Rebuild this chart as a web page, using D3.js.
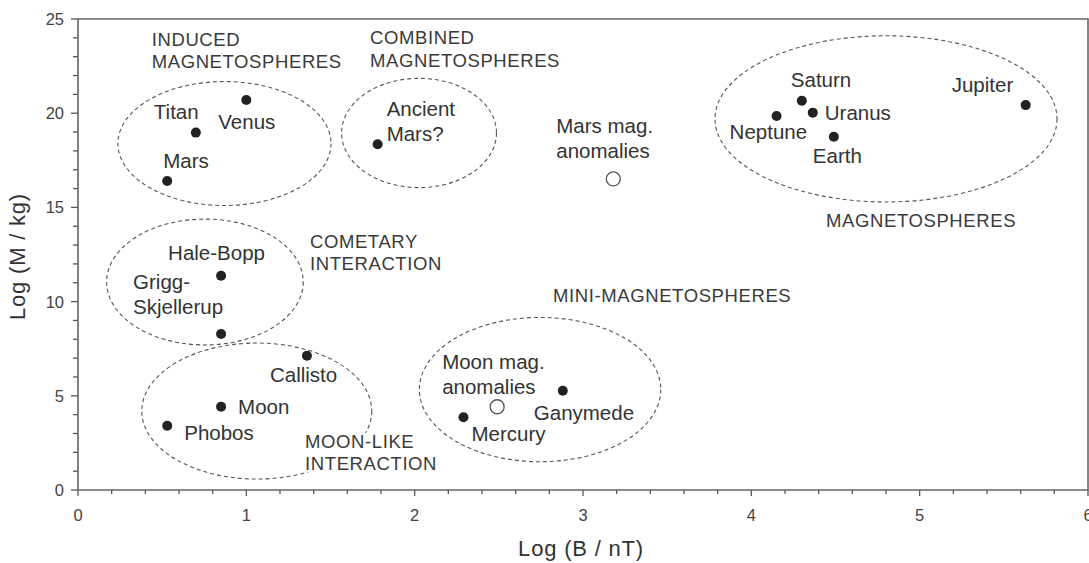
<!DOCTYPE html>
<html>
<head>
<meta charset="utf-8">
<script src="https://cdn.jsdelivr.net/npm/d3@7"></script>
<style>
	body { margin: 0; background: #fff; }
	#chart { width: 1089px; height: 563px; }
	text { font-family: "Liberation Sans", Arial, Helvetica, sans-serif; fill: #333; }
	.tickLabel { font-size: 16.5px; fill: #444; }
	.axisLabel { font-size: 22px; letter-spacing: 0.8px; fill: #333; }
	.bodyLabel { font-size: 20.5px; }
	.regionLabel { font-size: 18.5px; letter-spacing: 0.6px; fill: #3a3a3a; }
	.axisLine { stroke: #666; stroke-width: 1.6; fill: none; }
	.tickLine { stroke: #555; stroke-width: 1.3; }
	.region { fill: none; stroke: #555; stroke-width: 1.1; stroke-dasharray: 4,3; }
	.dot { fill: #222; }
	.openDot { fill: #fff; stroke: #555; stroke-width: 1.3; }
</style>
</head>
<body>
<div id="chart"></div>
<script>
"use strict"

// solar system bodies (filled dots)
const bodyNames = ["Venus", "Titan", "Mars", "Hale-Bopp", "Grigg-\nSkjellerup", "Callisto",
	"Moon", "Phobos", "Mercury", "Ganymede", "Ancient\nMars?",
	"Saturn", "Uranus", "Neptune", "Earth", "Jupiter"];
const bodyLogB = [1.00, 0.70, 0.53, 0.85, 0.85, 1.36, 0.85, 0.53, 2.29, 2.88, 1.78, 4.30, 4.365, 4.15, 4.49, 5.63];
const bodyLogM = [20.70, 18.97, 16.40, 11.37, 8.28, 7.13, 4.42, 3.41, 3.86, 5.27, 18.35, 20.66, 20.03, 19.85, 18.75, 20.43];

// crustal magnetic anomalies (open circles)
const anomalyNames = ["Mars mag.\nanomalies", "Moon mag.\nanomalies"];
const anomalyLogB = [3.18, 2.49];
const anomalyLogM = [16.51, 4.42];

// interaction regions (dashed ellipses), centre and half-axes in Log units
const regionNames = ["INDUCED\nMAGNETOSPHERES", "COMBINED\nMAGNETOSPHERES", "MAGNETOSPHERES",
	"COMETARY\nINTERACTION", "MOON-LIKE\nINTERACTION", "MINI-MAGNETOSPHERES"];
const regionCx = [0.870, 2.026, 4.800, 0.754, 1.062, 2.745];
const regionCy = [18.39, 18.95, 19.70, 11.04, 4.19, 5.33];
const regionRx = [0.633, 0.460, 1.016, 0.584, 0.683, 0.717];
const regionRy = [3.29, 2.90, 4.41, 3.34, 3.61, 3.83];

const xTicks = [0, 1, 2, 3, 4, 5, 6];
const yTicks = [0, 5, 10, 15, 20, 25];
const xLabel = "Log (B / nT)";
const yLabel = "Log (M / kg)";

// label placement (layout, pixels from the point / data position of region titles)
const labelOffset = {
	"Venus": [-28, 29], "Titan": [-42, -14], "Mars": [-4, -13], "Hale-Bopp": [-53, -16],
	"Grigg-\nSkjellerup": [-88, -45], "Callisto": [-37, 26], "Moon": [17, 7], "Phobos": [17, 14],
	"Mercury": [8, 24], "Ganymede": [-29, 29], "Ancient\nMars?": [9, -28],
	"Saturn": [-11, -14], "Uranus": [12, 7], "Neptune": [-47, 23], "Earth": [-21, 26], "Jupiter": [-74, -13],
	"Mars mag.\nanomalies": [-57, -46], "Moon mag.\nanomalies": [-55, -38]
};
const regionLabelX = [0.438, 1.735, 4.444, 1.378, 1.349, 2.822];
const regionLabelY = [23.58, 23.66, 13.98, 12.86, 2.245, 9.96];

let ChartView = function(targetID) {
	let self = {
		target: null,
		svg: null,
		margin: {left: 78, right: 1, top: 19, bottom: 73},
		totalWidth: 1089,
		totalHeight: 563,
		xScale: d3.scaleLinear(),
		yScale: d3.scaleLinear(),
	};

	function initTarget() {
		self.target = d3.select(targetID);
		self.svg = self.target.append("svg")
			.attr("width", self.totalWidth)
			.attr("height", self.totalHeight);

		self.xScale.domain([0, 6]).range([self.margin.left, self.totalWidth - self.margin.right]);
		self.yScale.domain([0, 25]).range([self.totalHeight - self.margin.bottom, self.margin.top]);
	}

	function multiLine(sel, lines, x, y, step) {
		lines.forEach((l, i) => {
			sel.append("tspan").attr("x", x).attr("y", y + i * step).text(l);
		});
	}

	function drawAxes() {
		let x = self.xScale, y = self.yScale;
		let g = self.svg.append("g").attr("class", "axes");

		// minor + major ticks
		let xMinor = d3.range(0, 6.001, 0.2);
		g.selectAll(".xtick").data(xMinor).enter().append("line")
			.attr("class", "tickLine")
			.attr("x1", d => x(d)).attr("x2", d => x(d))
			.attr("y1", y(0)).attr("y2", (d, i) => y(0) + (i % 5 == 0 ? 6 : 4));
		let yMinor = d3.range(0, 25.001, 1);
		g.selectAll(".ytick").data(yMinor).enter().append("line")
			.attr("class", "tickLine")
			.attr("y1", d => y(d)).attr("y2", d => y(d))
			.attr("x1", x(0)).attr("x2", (d, i) => x(0) - (i % 5 == 0 ? 7 : 5));

		// frame
		g.append("path").attr("class", "axisLine")
			.attr("d", `M${x(0)},${y(25)}H${x(6)}V${y(0)}H${x(0)}Z`);

		g.selectAll(".xTickLabel").data(xTicks).enter().append("text")
			.attr("class", "tickLabel")
			.attr("x", d => x(d)).attr("y", y(0) + 31)
			.attr("text-anchor", "middle")
			.text(d => d);
		g.selectAll(".yTickLabel").data(yTicks).enter().append("text")
			.attr("class", "tickLabel")
			.attr("x", x(0) - 14).attr("y", d => y(d) + 6)
			.attr("text-anchor", "end")
			.text(d => d);

		g.append("text").attr("class", "axisLabel")
			.attr("x", 581).attr("y", 556)
			.attr("text-anchor", "middle")
			.text(xLabel);
		g.append("text").attr("class", "axisLabel")
			.attr("transform", `translate(25,${(y(0) + y(25)) / 2 + 2})rotate(-90)`)
			.attr("text-anchor", "middle")
			.text(yLabel);
	}

	function drawRegions() {
		let x = self.xScale, y = self.yScale;
		let g = self.svg.append("g").attr("class", "regions");
		let regions = regionNames.map((n, i) => ({name: n, cx: regionCx[i], cy: regionCy[i], rx: regionRx[i], ry: regionRy[i],
			lx: regionLabelX[i], ly: regionLabelY[i]}));

		g.selectAll("ellipse").data(regions).enter().append("ellipse")
			.attr("class", "region")
			.attr("cx", d => x(d.cx)).attr("cy", d => y(d.cy))
			.attr("rx", d => x(d.rx) - x(0)).attr("ry", d => y(0) - y(d.ry));

		regions.forEach(d => {
			let lg = g.append("g");
			let t = lg.append("text").attr("class", "regionLabel");
			multiLine(t, d.name.split("\n"), x(d.lx), y(d.ly), 22.5);
			let bb = t.node().getBBox();
			lg.insert("rect", "text")
				.attr("x", bb.x - 2).attr("y", bb.y + 2)
				.attr("width", bb.width + 4).attr("height", bb.height - 4)
				.attr("fill", "#fff");
		});
	}

	function drawPoints() {
		let x = self.xScale, y = self.yScale;
		let bodies = bodyNames.map((n, i) => ({name: n, b: bodyLogB[i], m: bodyLogM[i]}));
		let anomalies = anomalyNames.map((n, i) => ({name: n, b: anomalyLogB[i], m: anomalyLogM[i]}));

		let g = self.svg.append("g").attr("class", "points");
		g.selectAll(".dot").data(bodies).enter().append("circle")
			.attr("class", "dot")
			.attr("cx", d => x(d.b)).attr("cy", d => y(d.m)).attr("r", 5);
		g.selectAll(".openDot").data(anomalies).enter().append("circle")
			.attr("class", "openDot")
			.attr("cx", d => x(d.b)).attr("cy", d => y(d.m)).attr("r", 7);

		bodies.concat(anomalies).forEach(d => {
			let off = labelOffset[d.name];
			let t = g.append("text").attr("class", "bodyLabel");
			multiLine(t, d.name.split("\n"), x(d.b) + off[0], y(d.m) + off[1], 25);
		});
	}

	function draw() {
		initTarget();
		drawAxes();
		drawRegions();
		drawPoints();
	}

	return {
		draw,
	};
}

ChartView("#chart").draw();
</script>
</body>
</html>
